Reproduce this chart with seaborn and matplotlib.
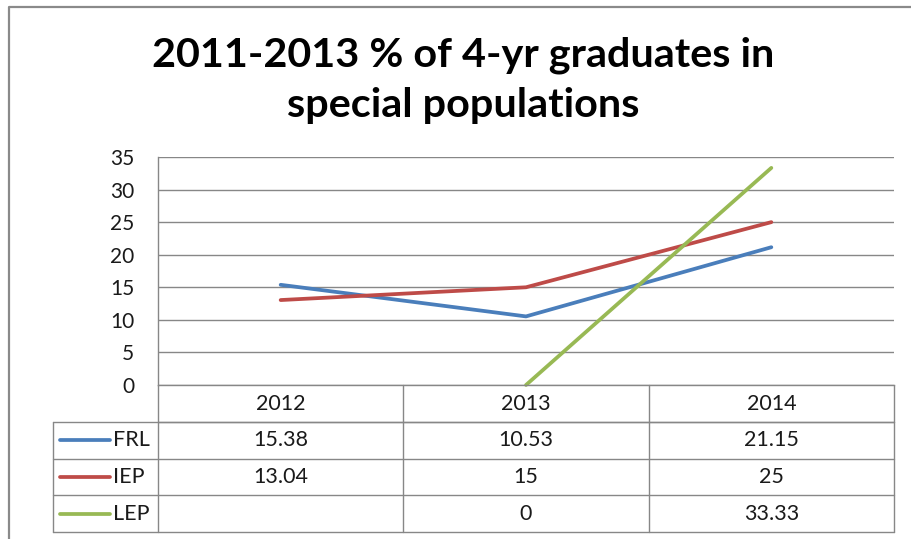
import numpy as np
import pandas as pd
import matplotlib
matplotlib.use("Agg")
import matplotlib.pyplot as plt
import seaborn as sns
from matplotlib.lines import Line2D
from matplotlib.transforms import blended_transform_factory

# ---- data ----
years = ["2012", "2013", "2014"]
frl = [15.38, 10.53, 21.15]
iep = [13.04, 15, 25]
lep = [None, 0, 33.33]
series_names = ["FRL", "IEP", "LEP"]
series_colors = ["#4A7EBB", "#BE4B48", "#98B954"]
title_lines = ["2011-2013 % of 4-yr graduates in", "special populations"]
y_ticks = [0, 5, 10, 15, 20, 25, 30, 35]

W, H = 912, 539
sns.set_style("white")
plt.rcParams["font.family"] = ["Lato", "DejaVu Sans"]

fig = plt.figure(figsize=(W / 100, H / 100), dpi=100)


def fx(px):
    return px / W


def fy(py):
    return 1 - py / H


GRID = "#878787"
TEXT = "#1a1a1a"

# ---- plot area ----
left, right, top, bottom = 158, 894, 157, 385
ax = fig.add_axes([fx(left), fy(bottom), (right - left) / W, (bottom - top) / H])

values = {"FRL": frl, "IEP": iep, "LEP": lep}
rows = []
for name in series_names:
    for i, v in enumerate(values[name]):
        rows.append({"pos": i, "series": name,
                     "value": np.nan if v is None else v})
df = pd.DataFrame(rows).dropna()

sns.lineplot(data=df, x="pos", y="value", hue="series",
             hue_order=series_names,
             palette=dict(zip(series_names, series_colors)),
             estimator=None, linewidth=2.7, legend=False, ax=ax,
             clip_on=False)
for ln in ax.lines:
    ln.set_solid_capstyle("round")
    ln.set_solid_joinstyle("round")

ax.set_xlim(-0.5, len(years) - 0.5)
ax.set_ylim(0, 35)
ax.set_yticks(y_ticks)
ax.set_xticks([])
ax.set_xlabel("")
ax.set_ylabel("")
ax.yaxis.grid(True, color=GRID, linewidth=1.0)
ax.set_axisbelow(True)
for side in ["top", "right"]:
    ax.spines[side].set_visible(False)
for side in ["left", "bottom"]:
    ax.spines[side].set_color(GRID)
    ax.spines[side].set_linewidth(1.0)
ax.tick_params(axis="y", length=0, pad=17, labelsize=15, labelcolor=TEXT)

# ---- data table under the axis ----
tr = blended_transform_factory(ax.transData, fig.transFigure)
header_top, header_bot = 385, 422
row_bounds = [422, 458.7, 495.3, 532]
table_left = 53
fs = 15.5

# horizontal rules
fig.add_artist(Line2D([fx(left), fx(right)], [fy(header_bot)] * 2,
                      transform=fig.transFigure, color=GRID, lw=1.0))
for yb in row_bounds:
    fig.add_artist(Line2D([fx(table_left), fx(right)], [fy(yb)] * 2,
                          transform=fig.transFigure, color=GRID, lw=1.0))
# vertical rules
fig.add_artist(Line2D([fx(table_left)] * 2, [fy(row_bounds[0]), fy(row_bounds[-1])],
                      transform=fig.transFigure, color=GRID, lw=1.0))
for xb in np.arange(len(years) + 1) - 0.5:
    fig.add_artist(Line2D([xb, xb], [fy(header_top), fy(row_bounds[-1])],
                          transform=tr, color=GRID, lw=1.0, clip_on=False))

# header
for i, yr in enumerate(years):
    fig.text(i, fy((header_top + header_bot) / 2), yr, transform=tr,
             ha="center", va="center", fontsize=fs, color=TEXT)

# rows with legend keys
for r, (name, color) in enumerate(zip(series_names, series_colors)):
    yc = fy((row_bounds[r] + row_bounds[r + 1]) / 2)
    fig.add_artist(Line2D([fx(60), fx(110)], [yc, yc], transform=fig.transFigure,
                          color=color, lw=2.7, solid_capstyle="round"))
    fig.text(fx(113), yc, name, ha="left", va="center", fontsize=fs, color=TEXT)
    for i, v in enumerate(values[name]):
        if v is None:
            continue
        fig.text(i, yc, f"{v:g}", transform=tr, ha="center", va="center",
                 fontsize=fs, color=TEXT)

# ---- title ----
for line, base in zip(title_lines, [66, 117]):
    fig.text(fx(463), fy(base), line, ha="center", va="baseline",
             fontsize=29.8, fontweight="bold", color="black")

# ---- chart frame ----
fig.add_artist(Line2D([fx(9), fx(9), fx(W + 5)], [fy(H + 5), fy(7), fy(7)],
                      transform=fig.transFigure, color="#8a8a8a", lw=1.6))

fig.savefig("out.png", dpi=100, facecolor="white")
